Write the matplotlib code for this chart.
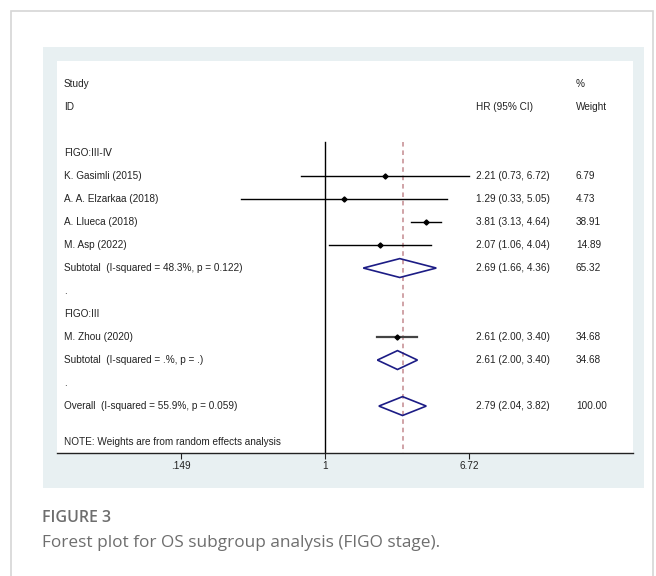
import numpy as np
import matplotlib
matplotlib.use("Agg")
import matplotlib.pyplot as plt
from matplotlib.patches import Rectangle, Polygon

plt.rcParams['font.family'] = ['Liberation Sans', 'DejaVu Sans']

# study-level estimates
studies = ["K. Gasimli (2015)", "A. A. Elzarkaa (2018)", "A. Llueca (2018)",
           "M. Asp (2022)", "M. Zhou (2020)"]
study_hr = [2.21, 1.29, 3.81, 2.07, 2.61]
study_lo = [0.73, 0.33, 3.13, 1.06, 2.00]
study_hi = [6.72, 5.05, 4.64, 4.04, 3.40]
study_w = [6.79, 4.73, 38.91, 14.89, 34.68]
study_rows = [4, 5, 6, 7, 11]

# pooled estimates (two subgroups + overall)
pooled_labels = ["Subtotal  (I-squared = 48.3%, p = 0.122)",
                 "Subtotal  (I-squared = .%, p = .)",
                 "Overall  (I-squared = 55.9%, p = 0.059)"]
pooled_hr = [2.69, 2.61, 2.79]
pooled_lo = [1.66, 2.00, 2.04]
pooled_hi = [4.36, 3.40, 3.82]
pooled_w = [65.32, 34.68, 100.00]
pooled_rows = [8, 12, 14]

group_labels = ["FIGO:III-\u2163", "FIGO:III"]
group_rows = [3, 10]
dot_rows = [9, 13]

xticks = [0.149, 1, 6.72]
xtick_labels = [".149", "1", "6.72"]

W, H = 656, 576
fig = plt.figure(figsize=(W / 100, H / 100), dpi=100)

def fx(px):
    return px / W

def fy(py):
    return 1 - py / H

# card outline and shaded panel
fig.patches.append(Rectangle((fx(11), fy(620)), fx(653) - fx(11), fy(11) - fy(620),
                             transform=fig.transFigure, facecolor='white',
                             edgecolor='#d6d6d6', lw=1.2, zorder=0))
fig.patches.append(Rectangle((fx(43), fy(488)), fx(644) - fx(43), fy(47) - fy(488),
                             transform=fig.transFigure, facecolor='#e8f0f2',
                             edgecolor='none', zorder=1))

ax = fig.add_axes([fx(57), fy(453), fx(633) - fx(57), fy(61) - fy(453)])
ax.set_zorder(5)
ax.set_facecolor('white')
ax.set_xscale('log')
ax.set_xlim(0.0289, 58.8)
ax.set_ylim(16.04, -1.0)
for s in ['top', 'left', 'right']:
    ax.spines[s].set_visible(False)
ax.spines['bottom'].set_color('#222222')
ax.spines['bottom'].set_linewidth(1.0)
ax.set_yticks([])
ax.set_xticks(xticks)
ax.set_xticklabels(xtick_labels)
ax.xaxis.set_minor_locator(matplotlib.ticker.NullLocator())
ax.tick_params(axis='x', length=4, width=0.8, color='#222222', labelsize=7.2,
               pad=1.5, labelcolor='#222222')

fs = 7.2
tc = '#222222'
tr = ax.get_yaxis_transform()
x_lab, x_hr, x_w = (64 - 57) / 576, (476 - 57) / 576, (576 - 57) / 576

# reference lines
ax.plot([1, 1], [2.5, 16.04], color='black', lw=1.0, zorder=2)
ax.plot([pooled_hr[2]] * 2, [2.5, 16.04], color='#c48a8f', lw=1.1,
        ls=(0, (3, 2.5)), zorder=2)

# headers
ax.text(x_lab, 0, "Study", transform=tr, fontsize=fs, color=tc, va='center')
ax.text(x_lab, 1, "ID", transform=tr, fontsize=fs, color=tc, va='center')
ax.text(x_hr, 1, "HR (95% CI)", transform=tr, fontsize=fs, color=tc, va='center')
ax.text(x_w, 0, "%", transform=tr, fontsize=fs, color=tc, va='center')
ax.text(x_w, 1, "Weight", transform=tr, fontsize=fs, color=tc, va='center')

for lab, r in zip(group_labels, group_rows):
    ax.text(x_lab, r, lab, transform=tr, fontsize=fs, color=tc, va='center')
for r in dot_rows:
    ax.text(x_lab, r, ".", transform=tr, fontsize=fs, color=tc, va='center')

# individual studies
for i, (name, r) in enumerate(zip(studies, study_rows)):
    col = '#444444' if r == 11 else 'black'
    lw = 1.6 if r == 11 else 1.0
    ax.plot([study_lo[i], study_hi[i]], [r, r], color=col, lw=lw, zorder=3)
    ax.plot(study_hr[i], r, marker='D', ms=2.6, color='black', zorder=4)
    ax.text(x_lab, r, name, transform=tr, fontsize=fs, color=tc, va='center')
    ax.text(x_hr, r, f"{study_hr[i]:.2f} ({study_lo[i]:.2f}, {study_hi[i]:.2f})",
            transform=tr, fontsize=fs, color=tc, va='center')
    ax.text(x_w, r, f"{study_w[i]:.2f}", transform=tr, fontsize=fs, color=tc, va='center')

# pooled diamonds
hh = 0.41
for i, (lab, r) in enumerate(zip(pooled_labels, pooled_rows)):
    pts = [(pooled_lo[i], r), (pooled_hr[i], r - hh), (pooled_hi[i], r), (pooled_hr[i], r + hh)]
    ax.add_patch(Polygon(pts, closed=True, facecolor='none', edgecolor='#1c1c85',
                         lw=1.2, zorder=5))
    ax.text(x_lab, r, lab, transform=tr, fontsize=fs, color=tc, va='center')
    ax.text(x_hr, r, f"{pooled_hr[i]:.2f} ({pooled_lo[i]:.2f}, {pooled_hi[i]:.2f})",
            transform=tr, fontsize=fs, color=tc, va='center')
    ax.text(x_w, r, f"{pooled_w[i]:.2f}", transform=tr, fontsize=fs, color=tc, va='center')

ax.text(x_lab, 15.57, "NOTE: Weights are from random effects analysis", transform=tr,
        fontsize=fs, color=tc, va='center')

# figure caption
fig.text(fx(42), fy(518), "FIGURE 3", fontsize=11.5, color='#6e6e6e',
         family=['Open Sans', 'DejaVu Sans'], fontweight='semibold', va='center')
fig.text(fx(42), fy(543), "Forest plot for OS subgroup analysis (FIGO stage).",
         fontsize=12.4, color='#6e6e6e', family=['Open Sans', 'DejaVu Sans'], va='center')

fig.savefig("out.png", dpi=100)
